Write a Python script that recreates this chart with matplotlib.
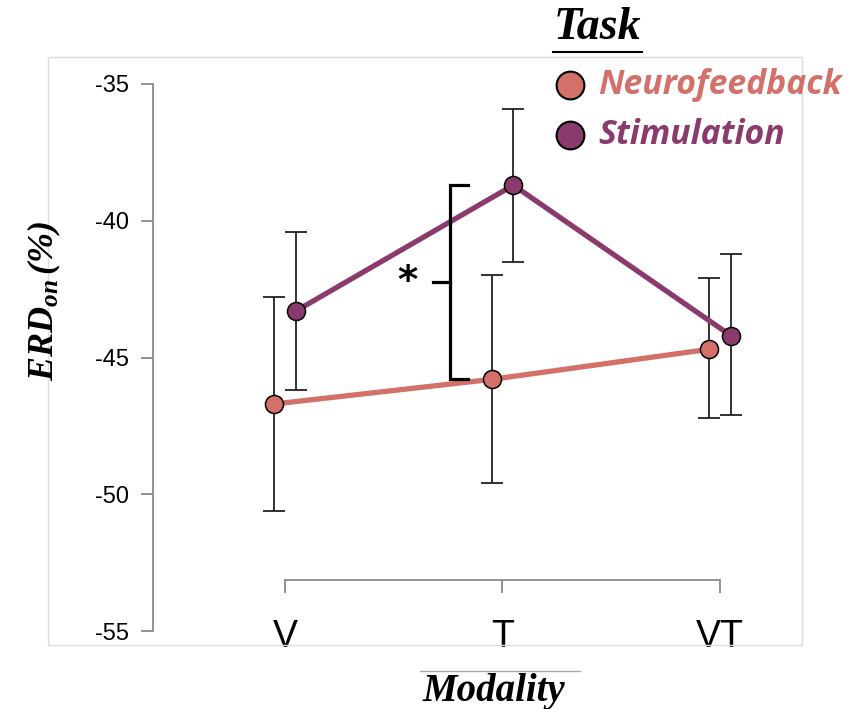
import numpy as np
import matplotlib
matplotlib.use("Agg")
import matplotlib.pyplot as plt
from matplotlib.lines import Line2D
from matplotlib.patches import Rectangle

# 数据
modalities = ["V", "T", "VT"]
neuro_mean = [-46.7, -45.8, -44.7]
neuro_lo = [-50.6, -49.6, -47.2]
neuro_hi = [-42.8, -42.0, -42.1]
stim_mean = [-43.3, -38.7, -44.2]
stim_lo = [-46.2, -41.5, -47.1]
stim_hi = [-40.4, -35.9, -41.2]
yticks = [-35, -40, -45, -50, -55]

c_neuro = "#d4706a"
c_stim = "#8b3a6e"
serif = "Liberation Serif"

plt.rcParams["mathtext.fontset"] = "custom"
plt.rcParams["mathtext.it"] = "Liberation Serif:italic:bold"
plt.rcParams["mathtext.rm"] = "Liberation Serif:italic:bold"
plt.rcParams["mathtext.bf"] = "Liberation Serif:italic:bold"

fig = plt.figure(figsize=(8.59, 7.09), dpi=100)
ax = fig.add_axes([153 / 859, 78 / 709, 647 / 859, 547 / 709])

x = np.arange(len(modalities))
dodge = 0.05

def draw(means, lo, hi, color, off):
    xs = x + off
    m = np.array(means)
    yerr = [m - np.array(lo), np.array(hi) - m]
    ax.errorbar(xs, m, yerr=yerr, fmt="none", ecolor="#222222",
                elinewidth=1.3, capsize=8, capthick=1.3, zorder=2)
    ax.plot(xs, m, color=color, lw=3.8, zorder=3, solid_capstyle="butt")
    ax.plot(xs, m, "o", color=color, ms=13, mec="black", mew=1.1, zorder=4)

draw(neuro_mean, neuro_lo, neuro_hi, c_neuro, -dodge)
draw(stim_mean, stim_lo, stim_hi, c_stim, dodge)

# 显著性括号
bx, barm, btick = 0.759, 0.841, 0.680
top, bot = stim_mean[1], neuro_mean[1]
mid = (top + bot) / 2
ax.plot([barm, bx, bx, barm], [top, top, bot, bot], color="black", lw=2.3,
        solid_joinstyle="miter", zorder=5)
ax.plot([btick, bx], [mid, mid], color="black", lw=2.3, zorder=5)
ax.text(0.565, mid, "*", fontsize=28, fontweight="bold", ha="center",
        va="center", family="DejaVu Sans")

# 坐标轴（先定位脊线，再设刻度）
for s in ["top", "right"]:
    ax.spines[s].set_visible(False)
ax.spines["left"].set_bounds(-55, -35)
ax.spines["bottom"].set_position(("data", -53.13))
ax.spines["bottom"].set_bounds(0, 2)
for s in ["left", "bottom"]:
    ax.spines[s].set_color("#808080")
    ax.spines[s].set_linewidth(1.2)

ax.set_xlim(-0.607, 2.368)
ax.set_ylim(-55, -35)
ax.set_yticks(yticks)
ax.set_yticklabels([str(t) for t in yticks], fontsize=17,
                   family="Liberation Sans")
ax.set_xticks(x)
ax.set_xticklabels(modalities, fontsize=27, family="Liberation Sans")
ax.tick_params(axis="y", length=9, width=1.2, color="#808080", pad=8)
ax.tick_params(axis="x", length=9, width=1.2, color="#808080", pad=19)

# 坐标轴标题
fig.text(44 / 859, 1 - 301 / 709, r"$ERD_{on}\,(\%)$", rotation=90,
         fontsize=26, ha="center", va="center")
fig.text(494 / 859, 1 - 692 / 709, "Modality", fontsize=28,
         family=serif, style="italic", fontweight="bold",
         ha="center", va="center")
fig.add_artist(Line2D([420 / 859, 580 / 859], [1 - 671 / 709, 1 - 671 / 709],
                      color="#aaaaaa", lw=1))

# 外框
fig.add_artist(Rectangle((48 / 859, 1 - 645 / 709), 754 / 859, 588 / 709,
                         fill=False, edgecolor="#dcdcdc", lw=1))

# 图例
fig.text(597 / 859, 1 - 28 / 709, "Task", fontsize=33, family=serif,
         style="italic", fontweight="bold", ha="center", va="center")
fig.add_artist(Line2D([553 / 859, 642 / 859], [1 - 52 / 709, 1 - 52 / 709],
                      color="black", lw=1.5))
for yy, lab, col in [(85, "Neurofeedback", c_neuro), (135, "Stimulation", c_stim)]:
    fig.add_artist(Line2D([570 / 859], [1 - yy / 709], marker="o", ms=20,
                          color=col, mec="black", mew=1.5, ls="none"))
    fig.text(598 / 859, 1 - yy / 709, lab, fontsize=24.3, family="Open Sans",
             style="italic", fontweight="bold", color=col, ha="left",
             va="center")

fig.savefig("out.png", dpi=100)
